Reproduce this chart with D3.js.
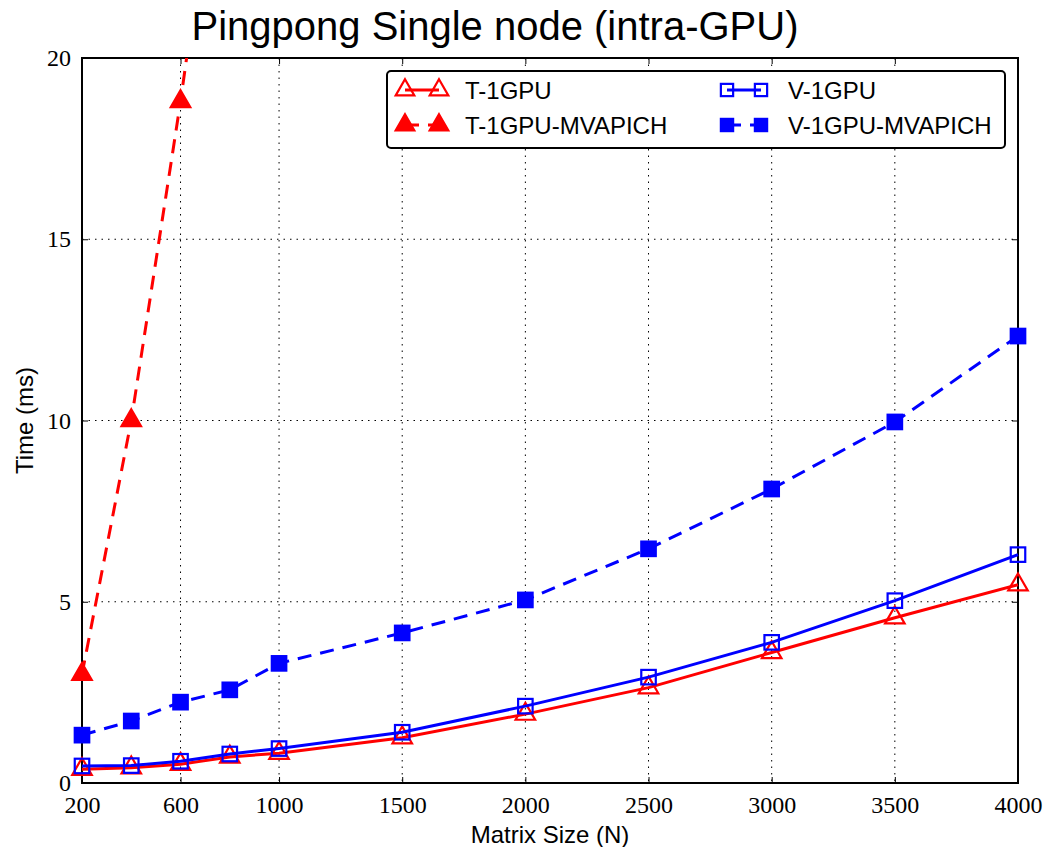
<!DOCTYPE html>
<html>
<head>
<meta charset="utf-8">
<script src="https://cdn.jsdelivr.net/npm/d3@7"></script>
<style>
  body { margin: 0; background: #fff; }
  svg { display: block; }
</style>
</head>
<body>
<div id="chart"></div>
<script>
// Matrix sizes (N) on the x axis
var sizes = [200, 400, 600, 800, 1000, 1500, 2000, 2500, 3000, 3500, 4000];
var xTicks = [200, 600, 1000, 1500, 2000, 2500, 3000, 3500, 4000];
var yTicks = [0, 5, 10, 15, 20];

// Time (ms)
var t1gpu = [0.38, 0.42, 0.52, 0.72, 0.82, 1.25, 1.9, 2.63, 3.6, 4.56, 5.47];
var v1gpu = [0.47, 0.48, 0.6, 0.8, 0.95, 1.4, 2.12, 2.92, 3.88, 5.03, 6.3];
var t1gpuMvapichSizes = [200, 400, 600, 800];
var t1gpuMvapich = [3.0, 10.0, 18.8, 28.5];
var v1gpuMvapich = [1.32, 1.71, 2.23, 2.57, 3.3, 4.14, 5.05, 6.46, 8.11, 9.96, 12.33];

var series = [
  { name: 'T-1GPU', xs: sizes, ys: t1gpu, color: '#ff0000', marker: 'tri', filled: false, dashed: false },
  { name: 'T-1GPU-MVAPICH', xs: t1gpuMvapichSizes, ys: t1gpuMvapich, color: '#ff0000', marker: 'tri', filled: true, dashed: true },
  { name: 'V-1GPU', xs: sizes, ys: v1gpu, color: '#0000ff', marker: 'sq', filled: false, dashed: false },
  { name: 'V-1GPU-MVAPICH', xs: sizes, ys: v1gpuMvapich, color: '#0000ff', marker: 'sq', filled: true, dashed: true }
];

var W = 1045, H = 847;
var margin = { top: 58, right: 27, bottom: 64, left: 82 };
var iw = W - margin.left - margin.right;
var ih = H - margin.top - margin.bottom;

var svg = d3.select('#chart').append('svg')
  .attr('width', W).attr('height', H);

var x = d3.scaleLinear().domain([200, 4000]).range([0, iw]);
var y = d3.scaleLinear().domain([0, 20]).range([ih, 0]);

var g = svg.append('g')
  .attr('transform', 'translate(' + margin.left + ',' + margin.top + ')');

// Clip for the data so the steep red line is cut at the top
g.append('clipPath').attr('id', 'clip')
  .append('rect').attr('x', -12).attr('y', 0).attr('width', iw + 24).attr('height', ih + 12);

// Grid lines (dotted)
g.append('g').selectAll('line.gx').data(xTicks.slice(1, -1)).enter()
  .append('line')
  .attr('x1', function(d) { return x(d); }).attr('x2', function(d) { return x(d); })
  .attr('y1', 0).attr('y2', ih)
  .attr('stroke', '#000').attr('stroke-width', 1).attr('stroke-dasharray', '1.5,5');
g.append('g').selectAll('line.gy').data(yTicks.slice(1, -1)).enter()
  .append('line')
  .attr('y1', function(d) { return y(d); }).attr('y2', function(d) { return y(d); })
  .attr('x1', 0).attr('x2', iw)
  .attr('stroke', '#000').attr('stroke-width', 1).attr('stroke-dasharray', '1.5,5');

// Axes with inward ticks
var tickFont = '"Liberation Serif", "DejaVu Serif", serif';
var xAxis = g.append('g').attr('transform', 'translate(0,' + ih + ')')
  .call(d3.axisBottom(x).tickValues(xTicks).tickSize(-6).tickPadding(13).tickFormat(d3.format('d')));
var xAxisTop = g.append('g')
  .call(d3.axisTop(x).tickValues(xTicks).tickSize(-6).tickFormat(''));
var yAxis = g.append('g')
  .call(d3.axisLeft(y).tickValues(yTicks).tickSize(-6).tickPadding(11).tickFormat(d3.format('d')));
var yAxisRight = g.append('g').attr('transform', 'translate(' + iw + ',0)')
  .call(d3.axisRight(y).tickValues(yTicks).tickSize(-6).tickFormat(''));

[xAxis, xAxisTop, yAxis, yAxisRight].forEach(function(a) {
  a.select('.domain').remove();
  a.selectAll('.tick line').attr('stroke', '#000').attr('stroke-width', 1);
  a.selectAll('text').attr('font-family', tickFont).attr('font-size', 24).attr('fill', '#000');
});

// Plot frame
g.append('rect').attr('width', iw).attr('height', ih)
  .attr('fill', 'none').attr('stroke', '#000').attr('stroke-width', 2);

// Marker drawing helper
function drawMarker(sel, s, size) {
  if (s.marker === 'tri') {
    var sym = d3.symbol().type(d3.symbolTriangle).size(size);
    sel.append('path').attr('d', sym());
  } else {
    var h = Math.sqrt(size) / 2;
    sel.append('rect').attr('x', -h).attr('y', -h).attr('width', 2 * h).attr('height', 2 * h);
  }
  sel.selectAll('path,rect')
    .attr('fill', s.filled ? s.color : 'none')
    .attr('stroke', s.color)
    .attr('stroke-width', 2.2);
}

var data = g.append('g').attr('clip-path', 'url(#clip)');
var line = d3.line()
  .x(function(d) { return x(d[0]); })
  .y(function(d) { return y(d[1]); });

// Draw lines then markers, in plotting order
series.forEach(function(s) {
  var pts = s.xs.map(function(v, i) { return [v, s.ys[i]]; });
  data.append('path').datum(pts)
    .attr('d', line)
    .attr('fill', 'none')
    .attr('stroke', s.color)
    .attr('stroke-width', 3)
    .attr('stroke-dasharray', s.dashed ? '14,9' : null);
  data.selectAll(null).data(pts).enter()
    .append('g')
    .attr('transform', function(d) { return 'translate(' + x(d[0]) + ',' + y(d[1]) + ')'; })
    .each(function() { drawMarker(d3.select(this), s, s.marker === 'tri' ? 165 : 210); });
});

// Legend
var lg = svg.append('g');
lg.append('rect')
  .attr('x', 387).attr('y', 71).attr('width', 618).attr('height', 77)
  .attr('rx', 4).attr('fill', '#fff').attr('stroke', '#000').attr('stroke-width', 2);

var legendPos = [
  { x1: 405, x2: 439, tx: 465, ty: 90 },
  { x1: 405, x2: 439, tx: 465, ty: 125 },
  { x1: 727, x2: 761, tx: 788, ty: 90 },
  { x1: 727, x2: 761, tx: 788, ty: 125 }
];
series.forEach(function(s, i) {
  var p = legendPos[i];
  lg.append('line')
    .attr('x1', p.x1).attr('x2', p.x2).attr('y1', p.ty).attr('y2', p.ty)
    .attr('stroke', s.color).attr('stroke-width', 3)
    .attr('stroke-dasharray', s.dashed ? '14,9' : null);
  [p.x1, p.x2].forEach(function(mx) {
    var m = lg.append('g').attr('transform', 'translate(' + mx + ',' + p.ty + ')');
    drawMarker(m, s, 150);
  });
  lg.append('text')
    .attr('x', p.tx).attr('y', p.ty).attr('dy', '0.36em')
    .attr('font-family', '"Liberation Sans", Arial, sans-serif')
    .attr('font-size', 24)
    .text(s.name);
});

// Title and axis labels
svg.append('text')
  .attr('x', 495).attr('y', 40)
  .attr('text-anchor', 'middle')
  .attr('font-family', '"Liberation Sans", Arial, sans-serif')
  .attr('font-size', 40)
  .text('Pingpong Single node (intra-GPU)');

svg.append('text')
  .attr('x', margin.left + iw / 2).attr('y', 843)
  .attr('text-anchor', 'middle')
  .attr('font-family', '"Liberation Sans", Arial, sans-serif')
  .attr('font-size', 24)
  .text('Matrix Size (N)');

svg.append('text')
  .attr('transform', 'translate(33,' + (margin.top + ih / 2) + ') rotate(-90)')
  .attr('text-anchor', 'middle')
  .attr('font-family', '"Liberation Sans", Arial, sans-serif')
  .attr('font-size', 24)
  .text('Time (ms)');
</script>
</body>
</html>
